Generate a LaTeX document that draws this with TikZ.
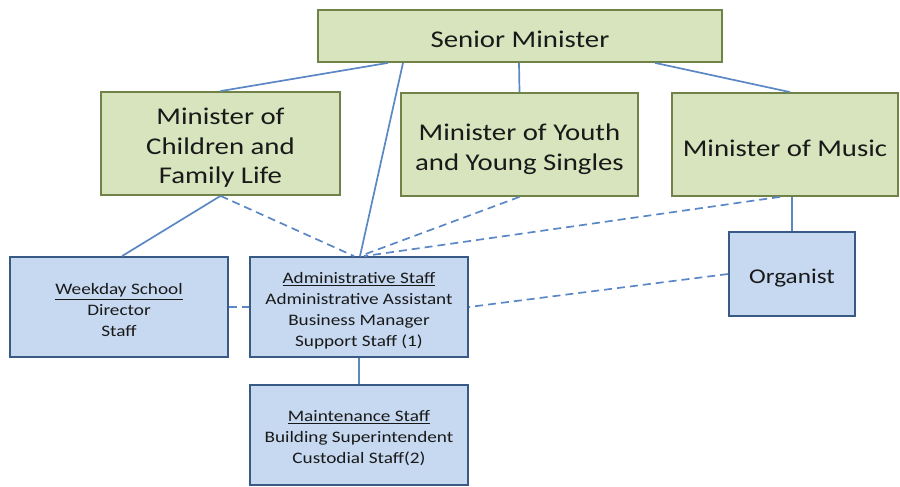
\documentclass[tikz,border=0pt]{standalone}
\usepackage{fontspec}
\setmainfont[FakeStretch=1.2]{Carlito}
\definecolor{gfill}{HTML}{D7E4BD}
\definecolor{gline}{HTML}{718249}
\definecolor{bfill}{HTML}{C6D9F1}
\definecolor{bline}{HTML}{3A5A86}
\definecolor{conn}{HTML}{5B87C5}
\begin{document}
\begin{tikzpicture}[x=1pt,y=-1pt,
  gbox/.style={draw=gline,fill=gfill,line width=1.8pt,inner sep=0pt},
  bbox/.style={draw=bline,fill=bfill,line width=1.8pt,inner sep=0pt},
  gtext/.style={inner sep=0pt,align=center,text=black!90,font=\fontsize{24}{29.5}\selectfont},
  btext/.style={inner sep=0pt,align=center,text=black!90,font=\fontsize{16}{21}\selectfont},
  solidc/.style={draw=conn,line width=1.7pt},
  dashc/.style={draw=conn,line width=1.7pt,dash pattern=on 8pt off 5pt}]
\useasboundingbox (0,0) rectangle (900,487);
% green boxes
\node[gbox,minimum width=404pt,minimum height=52pt] (sen) at (520,36) {};
\node[gbox,minimum width=239pt,minimum height=103pt] (chi) at (220.5,143.5) {};
\node[gbox,minimum width=237pt,minimum height=103pt] (you) at (519.5,144.5) {};
\node[gbox,minimum width=226pt,minimum height=103pt] (mus) at (785,144.5) {};
% blue boxes
\node[bbox,minimum width=218pt,minimum height=100pt] (wee) at (119,307) {};
\node[bbox,minimum width=218pt,minimum height=100pt] (adm) at (359,307) {};
\node[bbox,minimum width=218pt,minimum height=100pt] (mai) at (359,435) {};
\node[bbox,minimum width=126pt,minimum height=84pt] (org) at (792,274) {};
% texts
\node[gtext] (senT) at ([yshift=-3pt]sen.center) {Senior Minister};
\node[gtext] (chiT) at ([yshift=-4.5pt]chi.center) {Minister of\\Children and\\Family Life};
\node[gtext] (youT) at ([yshift=-4.5pt]you.center) {Minister of Youth\\and Young Singles};
\node[gtext] (musT) at ([yshift=-4pt]mus.center) {Minister of Music};
\node[btext] (weeT) at ([yshift=-3.5pt]wee.center) {\underline{Weekday School}\\Director\\Staff};
\node[btext] (admT) at ([yshift=-3.5pt]adm.center) {\underline{Administrative Staff}\\Administrative Assistant\\Business Manager\\Support Staff (1)};
\node[btext] (maiT) at ([yshift=-3.5pt]mai.center) {\underline{Maintenance Staff}\\Building Superintendent\\Custodial Staff(2)};
\node[btext,font=\fontsize{21}{26}\selectfont] (orgT) at ([yshift=-4pt]org.center) {Organist};
% coordinates on box edges
\coordinate (sA) at ([xshift=-132pt]sen.south);
\coordinate (sB) at ([xshift=-117pt]sen.south);
\coordinate (sC) at ([xshift=-1pt]sen.south);
\coordinate (sD) at ([xshift=135pt]sen.south);
\coordinate (aT) at (adm.north);
\coordinate (mB) at ([xshift=7pt]mus.south);
% solid connectors
\draw[solidc] (sA) -- (chi.north);
\draw[solidc] (sB) -- ([xshift=1pt]aT);
\draw[solidc] (sC) -- (you.north);
\draw[solidc] (sD) -- ([xshift=5pt]mus.north);
\draw[solidc] (chi.south) -- ([xshift=3pt]wee.north);
\draw[solidc] (mB) -- (org.north);
\draw[solidc] (adm.south) -- (mai.north);
% dashed connectors
\draw[dashc] (chi.south) -- ([xshift=-5pt]aT);
\draw[dashc] (you.south) -- ([xshift=1pt]aT);
\draw[dashc] ([xshift=-5pt]mus.south) -- ([xshift=5pt]aT);
\draw[dashc] (org.west) -- (adm.east);
\draw[dashc] (wee.east) -- (adm.west);
\end{tikzpicture}
\end{document}
